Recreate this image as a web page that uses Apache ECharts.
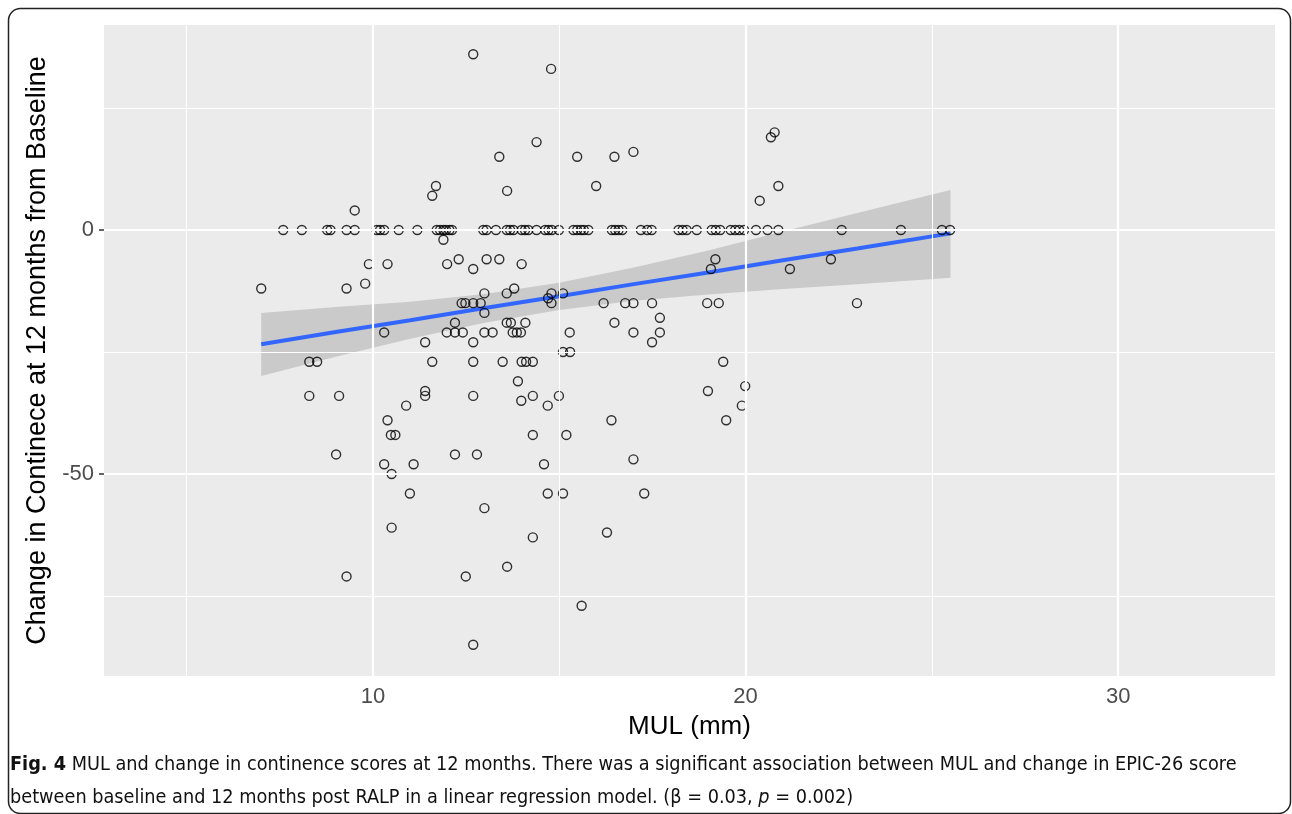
<!DOCTYPE html>
<html>
<head>
<meta charset="utf-8">
<script src="https://cdn.jsdelivr.net/npm/echarts@6/dist/echarts.min.js"></script>
<style>
html, body { margin: 0; padding: 0; background: #fff; }
#main { width: 1292px; height: 814px; }
</style>
</head>
<body>
<div id="main"></div>
<script>
// MUL (mm) and change in continence score
var mulMm = [
    // score 0
    7.59, 8.09, 8.77, 8.86, 9.29, 9.51, 10.10, 10.19, 10.30, 10.69, 11.19, 11.71, 11.80, 11.89, 11.96, 12.05,
    12.12, 12.96, 13.05, 13.30, 13.59, 13.68, 13.77, 13.99, 14.08, 14.17, 14.39, 14.62, 14.71, 14.80, 14.99,
    15.38, 15.48, 15.58, 15.66, 15.78, 16.41, 16.50, 16.59, 16.69, 17.19, 17.36, 17.48, 18.20, 18.31, 18.42,
    18.69, 19.09, 19.20, 19.32, 19.60, 19.72, 19.83, 19.96, 20.28, 20.59, 20.88, 22.58, 24.17, 25.27, 25.49,
    // above / near zero
    11.89, 9.51, 11.69, 11.59, 12.69, 14.78, 14.39, 13.39, 13.60, 15.48, 15.99, 16.48, 16.99, 20.78, 20.68,
    20.88, 20.38,
    // below zero
    7.00, 9.89, 10.39, 9.29, 9.79, 11.99, 12.30, 12.69, 13.05, 12.99, 12.38, 12.48, 12.69, 12.89, 12.99,
    12.20, 11.98, 12.20, 12.41, 12.99, 13.21, 10.30, 11.40, 12.69, 8.29, 8.50, 11.59, 12.69, 8.29, 9.09,
    11.40, 11.40, 12.69, 10.89, 10.39, 10.48, 10.60, 9.01, 12.20, 12.79,
    13.39, 13.99, 13.59, 13.79, 14.70, 14.79, 14.79, 15.10, 16.19, 16.77, 16.99, 17.49, 18.97, 19.28, 19.19,
    19.07, 17.70, 16.48, 13.59, 13.70, 14.09, 13.75, 13.86, 13.97, 15.28, 16.99, 17.70, 17.49, 15.10, 15.29,
    13.48, 13.99, 14.11, 14.29, 19.40, 13.89, 14.29, 13.98, 14.69, 14.99, 18.99, 19.90, 16.40, 19.48, 14.29,
    15.19, 21.19, 22.29, 22.99, 19.99,
    10.30, 10.50, 11.09, 10.99, 12.99, 10.50, 9.29, 12.49, 12.69,
    14.59, 16.99, 14.69, 15.10, 17.28, 14.29, 16.28, 13.60, 15.60
];
var changeScore = [
    0, 0, 0, 0, 0, 0, 0, 0, 0, 0, 0, 0, 0, 0, 0, 0,
    0, 0, 0, 0, 0, 0, 0, 0, 0, 0, 0, 0, 0, 0, 0,
    0, 0, 0, 0, 0, 0, 0, 0, 0, 0, 0, 0, 0, 0, 0,
    0, 0, 0, 0, 0, 0, 0, 0, 0, 0, 0, 0, 0, 0, 0,
    -2, 4, 9, 7, 36, 33, 18, 15, 8, 15, 9, 15, 16, 20, 19,
    9, 6,
    -12, -7, -7, -12, -11, -7, -6, -8, -6, -13, -15, -15, -15, -15, -17,
    -19, -21, -21, -21, -21, -21, -21, -23, -23, -27, -27, -27, -27, -34, -34,
    -33, -34, -34, -36, -39, -42, -42, -46, -46, -46,
    -6, -7, -13, -12, -14, -13, -15, -13, -15, -15, -15, -15, -15, -15, -6,
    -8, -18, -19, -19, -19, -19, -21, -21, -21, -21, -21, -21, -23, -25, -25,
    -27, -27, -27, -27, -27, -31, -34, -35, -36, -34, -33, -36, -39, -39, -42,
    -42, -8, -6, -15, -32,
    -48, -50, -48, -54, -57, -61, -71, -71, -85,
    -48, -47, -54, -54, -54, -63, -62, -69, -77
];

// linear fit and its confidence band
var bandX = [7.0, 9, 11, 13, 15, 17, 19, 21, 23, 25.5];
var fitY = [-23.4, -20.9, -18.5, -16.0, -13.6, -11.1, -8.7, -6.2, -3.8, -0.7];
var bandHigh = [-17.0, -15.8, -14.7, -13.1, -10.8, -7.7, -4.2, -0.3, 3.5, 8.2];
var bandLow = [-29.9, -26.0, -22.3, -19.0, -16.4, -14.5, -13.2, -12.1, -11.1, -9.8];

var xTicks = [10, 20, 30];
var xMinor = [5, 15, 25];
var yTicks = [-50, 0];
var yMinor = [-75, -25, 25];

var FONT = '"Liberation Sans", Arial, sans-serif';
var CAP_FONT = '"Liberation Sans Narrow", "DejaVu Sans Condensed", sans-serif';
var CAP_SIZE = 19.7;

var myChart = echarts.init(document.getElementById('main'));

var points = mulMm.map(function (x, i) { return [x, changeScore[i]]; });
var fitLine = bandX.map(function (x, i) { return [x, fitY[i]]; });

var gridLines = [];
xTicks.forEach(function (v) { gridLines.push({ xAxis: v, lineStyle: { color: '#fff', width: 2.2, type: 'solid' } }); });
xMinor.forEach(function (v) { gridLines.push({ xAxis: v, lineStyle: { color: '#fff', width: 1.1, type: 'solid' } }); });
yTicks.forEach(function (v) { gridLines.push({ yAxis: v, lineStyle: { color: '#fff', width: 2.2, type: 'solid' } }); });
yMinor.forEach(function (v) { gridLines.push({ yAxis: v, lineStyle: { color: '#fff', width: 1.1, type: 'solid' } }); });

var option = {
    animation: false,
    grid: {
        left: 104,
        right: 17,
        top: 25,
        bottom: 138,
        show: true,
        backgroundColor: '#EBEBEB',
        borderWidth: 0
    },
    xAxis: {
        type: 'value',
        min: 2.78,
        max: 34.21,
        axisLine: { show: false },
        splitLine: { show: false },
        axisTick: { show: true, customValues: xTicks, length: 5, lineStyle: { color: '#333', width: 1.5 } },
        axisLabel: { customValues: xTicks, color: '#4D4D4D', fontSize: 22, fontFamily: FONT, margin: 10 },
        name: 'MUL (mm)',
        nameLocation: 'middle',
        nameGap: 38,
        nameTextStyle: { color: '#000', fontSize: 26, fontFamily: FONT }
    },
    yAxis: {
        type: 'value',
        min: -91.4,
        max: 42,
        axisLine: { show: false },
        splitLine: { show: false },
        axisTick: { show: true, customValues: yTicks, length: 5, lineStyle: { color: '#333', width: 1.5 } },
        axisLabel: { customValues: yTicks, color: '#4D4D4D', fontSize: 22, fontFamily: FONT, margin: 10 },
        name: 'Change in Continece at 12 months from Baseline',
        nameLocation: 'middle',
        nameGap: 50,
        nameTextStyle: { color: '#000', fontSize: 27, fontFamily: FONT }
    },
    series: [
        {
            type: 'scatter',
            data: [],
            z: 1,
            silent: true,
            markLine: { silent: true, symbol: 'none', label: { show: false }, data: gridLines }
        },
        {
            type: 'custom',
            z: 2,
            silent: true,
            data: [[bandX[0], bandLow[0]]],
            renderItem: function (params, api) {
                var pts = [];
                for (var i = 0; i < bandX.length; i++) pts.push(api.coord([bandX[i], bandHigh[i]]));
                for (var j = bandX.length - 1; j >= 0; j--) pts.push(api.coord([bandX[j], bandLow[j]]));
                return { type: 'polygon', shape: { points: pts }, style: { fill: 'rgba(153,153,153,0.4)' } };
            }
        },
        {
            type: 'line',
            z: 3,
            data: fitLine,
            showSymbol: false,
            silent: true,
            lineStyle: { color: '#3366FF', width: 4 }
        },
        {
            type: 'scatter',
            z: 4,
            data: points,
            symbol: 'circle',
            symbolSize: 9,
            itemStyle: { color: 'rgba(0,0,0,0)', borderColor: '#000', borderWidth: 1.4 }
        }
    ],
    graphic: [
        {
            type: 'rect',
            shape: { x: 8.5, y: 8.5, width: 1282, height: 805, r: 12 },
            style: { fill: 'none', stroke: '#222', lineWidth: 1.5 },
            silent: true
        },
        {
            type: 'text',
            x: 10,
            y: 765,
            style: {
                text: '{b|Fig. 4} MUL and change in continence scores at 12 months. There was a significant association between MUL and change in EPIC-26 score',
                fontFamily: CAP_FONT, fontSize: CAP_SIZE, fill: '#111', verticalAlign: 'middle',
                rich: { b: { fontFamily: CAP_FONT, fontSize: CAP_SIZE, fontWeight: 'bold', fill: '#111' } }
            }
        },
        {
            type: 'text',
            x: 10,
            y: 798,
            style: {
                text: 'between baseline and 12 months post RALP in a linear regression model. (β = 0.03, {i|p} = 0.002)',
                fontFamily: CAP_FONT, fontSize: CAP_SIZE, fill: '#111', verticalAlign: 'middle',
                rich: { i: { fontFamily: CAP_FONT, fontSize: CAP_SIZE, fontStyle: 'italic', fill: '#111' } }
            }
        }
    ]
};

myChart.setOption(option, true);
</script>
</body>
</html>
